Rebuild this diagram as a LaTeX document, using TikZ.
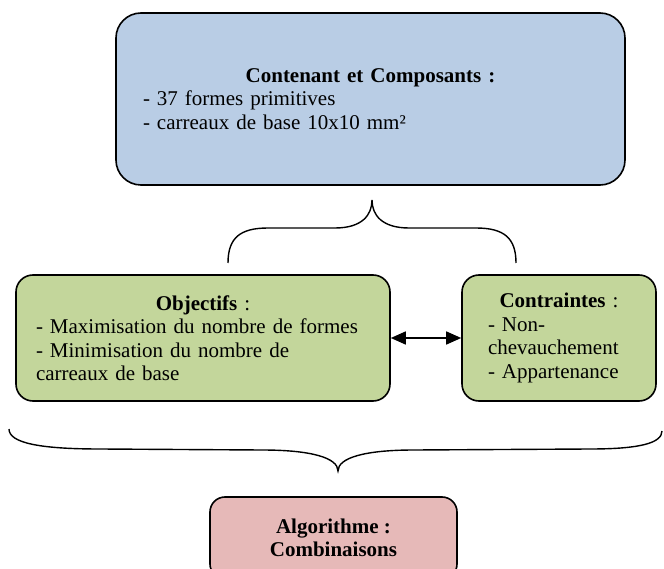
\documentclass[tikz,border=0pt]{standalone}
\usepackage{fontspec}
\setmainfont{Liberation Serif}
\usetikzlibrary{arrows.meta}
\definecolor{blueFill}{RGB}{185,205,229}
\definecolor{greenFill}{RGB}{195,214,155}
\definecolor{pinkFill}{RGB}{230,185,184}

\begin{document}
\begin{tikzpicture}[x=1pt,y=-1pt]
\tikzstyle{every node}=[font=\fontsize{21}{23.5}\selectfont]
\tikzstyle{box}=[draw, line width=1.6pt, inner sep=0pt, align=left]
\tikzstyle{brace}=[line width=1.4pt]
\useasboundingbox (0,0) rectangle (664,569);

\node[box, fill=blueFill, rounded corners=25pt, minimum width=509pt,
  minimum height=172pt, text width=455pt] (compo) at (370.5,99)
  {{\centering\textbf{Contenant et Composants :}\par}
   - 37 formes primitives\\
   - carreaux de base 10x10 mm²};

\node[box, fill=greenFill, rounded corners=17pt, minimum width=374pt,
  minimum height=126pt, text width=334pt] (obj) at (203,338)
  {{\centering\textbf{Objectifs} :\par}
   - Maximisation du nombre de formes\\
   - Minimisation du nombre de\\
   carreaux de base};

\node[box, fill=greenFill, rounded corners=17pt, minimum width=194pt,
  minimum height=126pt, text width=142pt] (contr) at (559,338)
  {{\centering\textbf{Contraintes} :\par}
   - Non-\\
   chevauchement\\
   - Appartenance};

\node[box, fill=pinkFill, rounded corners=15pt, minimum width=247pt,
  minimum height=82pt, align=center, font=\fontsize{21}{23.5}\selectfont\bfseries]
  (algo) at (333.5,538) {Algorithme :\\ Combinaisons};

\draw[line width=1.6pt, {Triangle[length=15pt,width=13pt]}-{Triangle[length=15pt,width=13pt]}]
  (obj.east) -- (contr.west);

% accolade du haut
\draw[brace] (228,263) .. controls (228,238) and (240,228) .. (268,228)
  -- (335,228) .. controls (362,228) and (372,215) .. (372,200)
  .. controls (372,215) and (382,228) .. (409,228)
  -- (476,228) .. controls (504,228) and (516,238) .. (516,263);

% accolade du bas
\draw[brace] (9,429) .. controls (9,443) and (40,449) .. (100,449)
  -- (262,450) .. controls (312,450) and (338,458) .. (338,471)
  .. controls (338,458) and (364,450) .. (414,450)
  -- (590,449) .. controls (640,449) and (662,443) .. (662,431);
\end{tikzpicture}
\end{document}
